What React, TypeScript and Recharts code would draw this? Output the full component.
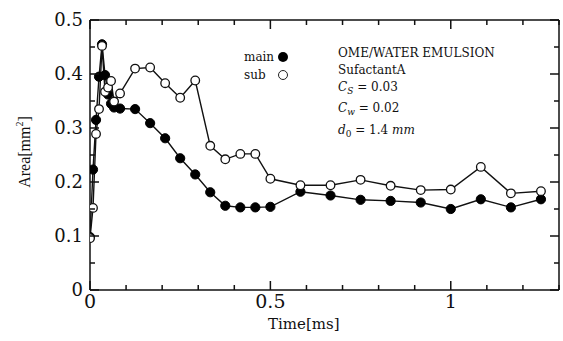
import { LineChart, Line, XAxis, YAxis, ReferenceLine } from "recharts";

// ── Data ──────────────────────────────────────────────────────────────────────

const TIME = [
  0, 0.0083, 0.0167, 0.025, 0.0333, 0.0417, 0.05, 0.0583, 0.0667, 0.0833,
  0.125, 0.1667, 0.2083, 0.25, 0.2917, 0.3333, 0.375, 0.4167, 0.4583, 0.5,
  0.5833, 0.6667, 0.75, 0.8333, 0.9167, 1.0, 1.0833, 1.1667, 1.25,
];

const MAIN = [
  0.098, 0.223, 0.315, 0.395, 0.455, 0.398, 0.362, 0.345, 0.338, 0.336,
  0.335, 0.309, 0.281, 0.244, 0.214, 0.181, 0.156, 0.153, 0.153, 0.154,
  0.182, 0.175, 0.167, 0.165, 0.162, 0.15, 0.168, 0.153, 0.168,
];

const SUB = [
  0.096, 0.152, 0.289, 0.335, 0.452, 0.367, 0.375, 0.387, 0.349, 0.364,
  0.41, 0.412, 0.383, 0.356, 0.388, 0.267, 0.242, 0.252, 0.252, 0.206,
  0.194, 0.194, 0.204, 0.193, 0.185, 0.186, 0.228, 0.179, 0.183,
];

const X_TICKS = [0, 0.1, 0.2, 0.3, 0.4, 0.5, 0.6, 0.7, 0.8, 0.9, 1, 1.1, 1.2, 1.3];
const X_LABELS = [0, 0.5, 1];
const Y_TICKS = [0, 0.05, 0.1, 0.15, 0.2, 0.25, 0.3, 0.35, 0.4, 0.45, 0.5];
const Y_LABELS = [0, 0.1, 0.2, 0.3, 0.4, 0.5];

const data = TIME.map((t, i) => ({ t, main: MAIN[i], sub: SUB[i] }));

// ── Layout ────────────────────────────────────────────────────────────────────

const W = 563;
const H = 341;
const MARGIN = { top: 20, right: 4, bottom: 21, left: 30 };
const Y_AXIS_W = 60;
const X_AXIS_H = 30;
const PLOT_W = W - MARGIN.left - MARGIN.right - Y_AXIS_W;
const PLOT_H = H - MARGIN.top - MARGIN.bottom - X_AXIS_H;

// ── Ticks (inward on all four sides, like the original frame) ─────────────────

const TICK_FONT = "'DejaVu Serif', serif";
const INK = "#111";
const isIn = (list: number[], v: number) => list.some((l) => Math.abs(l - v) < 1e-6);

function BottomTick(props: any) {
  const { x, y, payload } = props;
  const v = payload.value as number;
  const major = isIn(X_LABELS, v);
  const len = major ? 9 : 5;
  const top = y - PLOT_H;
  return (
    <g>
      <path d={`M${x},${y}V${y - len}M${x},${top}V${top + len}`} stroke={INK} strokeWidth={1.5} fill="none" />
      {major && (
        <text x={x} y={y + 18} textAnchor="middle" fontSize={19} fontFamily={TICK_FONT} fill={INK}>
          {String(v)}
        </text>
      )}
    </g>
  );
}

function LeftTick(props: any) {
  const { x, y, payload } = props;
  const v = payload.value as number;
  const major = isIn(Y_LABELS, v);
  const len = major ? 9 : 5;
  const right = x + PLOT_W;
  return (
    <g>
      <path d={`M${x},${y}H${x + len}M${right},${y}H${right - len}`} stroke={INK} strokeWidth={1.5} fill="none" />
      {major && (
        <text x={x - 7} y={y + 6} textAnchor="end" fontSize={18} fontFamily={TICK_FONT} fill={INK}>
          {String(v)}
        </text>
      )}
    </g>
  );
}

const axisLine = { stroke: INK, strokeWidth: 1.5 };

// ── Chart ─────────────────────────────────────────────────────────────────────

export default function App() {
  const textFont = "'DejaVu Serif', serif";
  return (
    <div style={{ position: "absolute", left: 0, top: 0, width: W, height: H, background: "#fff" }}>
      <LineChart width={W} height={H} data={data} margin={MARGIN}>
        <XAxis
          dataKey="t"
          type="number"
          domain={[0, 1.3]}
          ticks={X_TICKS}
          interval={0}
          height={X_AXIS_H}
          tickSize={0}
          tickMargin={0}
          tickLine={false}
          axisLine={axisLine}
          tick={<BottomTick />}
          allowDataOverflow
        />
        <YAxis
          type="number"
          domain={[0, 0.5]}
          ticks={Y_TICKS}
          interval={0}
          width={Y_AXIS_W}
          tickSize={0}
          tickMargin={0}
          tickLine={false}
          axisLine={axisLine}
          tick={<LeftTick />}
          allowDataOverflow
        />
        {/* top and right sides of the frame */}
        <ReferenceLine y={0.5} stroke={INK} strokeWidth={1.5} />
        <ReferenceLine x={1.3} stroke={INK} strokeWidth={1.5} />
        <Line
          dataKey="main"
          type="linear"
          stroke="#111"
          strokeWidth={1.4}
          dot={{ r: 4.6, fill: "#000", stroke: "#000", strokeWidth: 1 }}
          isAnimationActive={false}
        />
        <Line
          dataKey="sub"
          type="linear"
          stroke="#111"
          strokeWidth={1.4}
          dot={{ r: 4.3, fill: "#fff", stroke: "#111", strokeWidth: 1.3 }}
          isAnimationActive={false}
        />
      </LineChart>

      {/* Legend */}
      <div style={{ position: "absolute", left: 244, top: 48, fontFamily: textFont, fontSize: 12, color: INK, lineHeight: "18px" }}>
        <div style={{ display: "flex", alignItems: "center" }}>
          <span style={{ width: 33 }}>main</span>
          <span style={{ width: 10, height: 10, borderRadius: "50%", background: "#000", marginLeft: 1 }} />
        </div>
        <div style={{ display: "flex", alignItems: "center" }}>
          <span style={{ width: 33 }}>sub</span>
          <span style={{ width: 8, height: 8, borderRadius: "50%", border: "1.2px solid #222", marginLeft: 1 }} />
        </div>
      </div>

      {/* Annotation */}
      <div style={{ position: "absolute", left: 338, top: 45, fontFamily: textFont, fontSize: 12, color: INK, lineHeight: "17px" }}>
        <div>OME/WATER EMULSION</div>
        <div>SufactantA</div>
        <div>
          <i>C</i>
          <sub style={{ fontSize: 9 }}><i>S</i></sub> = 0.03
        </div>
        <div>
          <i>C</i>
          <sub style={{ fontSize: 9 }}><i>w</i></sub> = 0.02
        </div>
        <div>
          <i>d</i>
          <sub style={{ fontSize: 9 }}>0</sub> = 1.4 <i>mm</i>
        </div>
      </div>

      {/* Axis titles */}
      <div style={{ position: "absolute", left: 268, top: 315, fontFamily: textFont, fontSize: 15, color: INK }}>
        Time[ms]
      </div>
      <div
        style={{
          position: "absolute",
          left: 24,
          top: 152,
          transform: "translate(-50%, -50%) rotate(-90deg)",
          fontFamily: "'Liberation Serif', serif",
          fontSize: 16,
          color: INK,
          whiteSpace: "nowrap",
        }}
      >
        Area[mm<sup style={{ fontSize: 10 }}>2</sup>]
      </div>
    </div>
  );
}
